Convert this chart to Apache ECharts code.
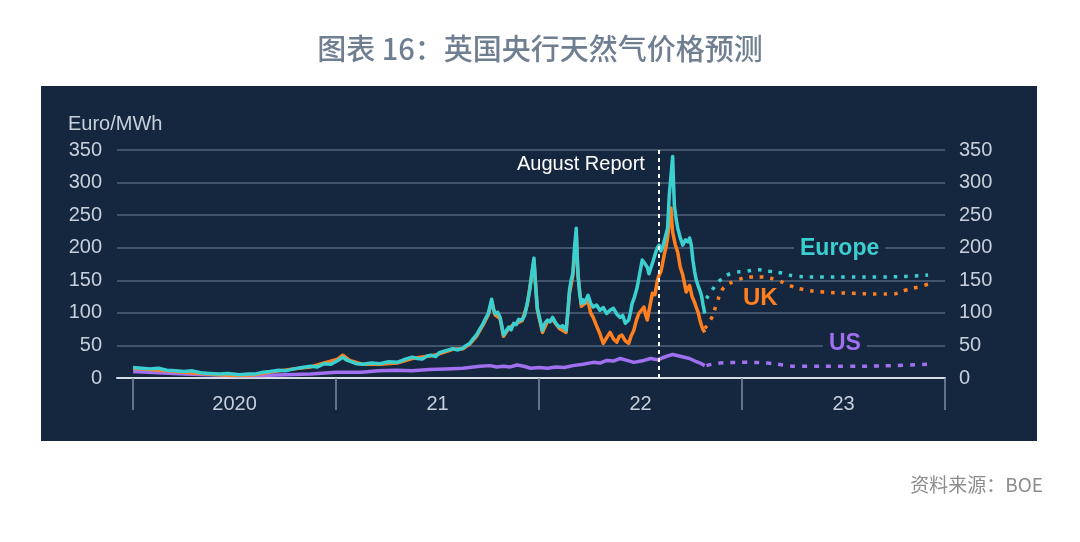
<!DOCTYPE html>
<html>
<head>
    <meta charset="utf-8">
    <title>英国央行天然气价格预测</title>
    <script src="https://cdn.jsdelivr.net/npm/echarts@6/dist/echarts.min.js"></script>
    <style>
        html, body { margin: 0; padding: 0; background: #ffffff; }
        #chart1 { width: 1080px; height: 542px; }
    </style>
</head>
<body>
<div id="chart1"></div>
<script type="text/javascript">
    // x = months since Jan 2020, y = Euro/MWh
    var europeActual = [
        [0, 16], [0.5, 15], [1, 14], [1.5, 15], [2, 12], [2.5, 11], [3, 10], [3.5, 11], [4, 8], [4.5, 7],
        [5.1, 6], [5.6, 7], [6.3, 5], [6.8, 6], [7.2, 6], [7.7, 9], [8.1, 10], [8.6, 12], [9, 11], [9.5, 14],
        [10, 16], [10.5, 18], [10.9, 17], [11.3, 22], [11.7, 21], [12.1, 27], [12.4, 32], [12.6, 28], [12.8, 26],
        [13.2, 22], [13.6, 21], [14.1, 23], [14.6, 22], [15.1, 25], [15.6, 24], [16.0, 28], [16.5, 32],
        [16.8, 30], [17.1, 29], [17.4, 34], [17.6, 35], [17.9, 33], [18.1, 39], [18.5, 42], [18.9, 45],
        [19.2, 43], [19.5, 46], [19.7, 50], [19.9, 53], [20.1, 60], [20.3, 66], [20.5, 75], [20.7, 84],
        [20.85, 92], [21.0, 99], [21.1, 110], [21.2, 121], [21.3, 106], [21.4, 99], [21.55, 101], [21.7, 93],
        [21.8, 80], [21.9, 66], [22.05, 72], [22.2, 78], [22.35, 74], [22.5, 84], [22.65, 82], [22.8, 90],
        [23.0, 89], [23.15, 96], [23.3, 114], [23.45, 135], [23.6, 166], [23.7, 184], [23.8, 140], [23.9, 107],
        [24.05, 90], [24.2, 73], [24.35, 84], [24.5, 89], [24.65, 86], [24.8, 93], [25.0, 84], [25.2, 78],
        [25.4, 80], [25.6, 73], [25.7, 100], [25.8, 135], [25.9, 150], [26.0, 161], [26.1, 200], [26.2, 230],
        [26.25, 190], [26.3, 161], [26.4, 130], [26.5, 114], [26.6, 120], [26.7, 116], [26.9, 127],
        [27.05, 115], [27.2, 109], [27.4, 112], [27.6, 104], [27.8, 108], [28.0, 99], [28.2, 104], [28.4, 107],
        [28.6, 98], [28.8, 93], [28.95, 96], [29.1, 84], [29.3, 89], [29.4, 100], [29.5, 114], [29.65, 125],
        [29.8, 139], [29.95, 160], [30.1, 181], [30.25, 176], [30.4, 170], [30.5, 160], [30.6, 163],
        [30.75, 180], [30.9, 193], [31.0, 200], [31.1, 204], [31.2, 195], [31.3, 200], [31.45, 215],
        [31.6, 230], [31.65, 255], [31.7, 281], [31.8, 310], [31.9, 340], [31.95, 300], [32.0, 265],
        [32.1, 245], [32.2, 230], [32.35, 215], [32.5, 204], [32.65, 212], [32.8, 209], [32.9, 215],
        [33.0, 204], [33.1, 180], [33.2, 163], [33.3, 150], [33.4, 142], [33.5, 135], [33.6, 127],
        [33.7, 112], [33.8, 99]
    ];
    var europeForecast = [
        [33.9, 122], [34.7, 150], [35.4, 161], [36.3, 164], [36.9, 166], [37.6, 164], [38.4, 161],
        [39.2, 156], [40.8, 155], [42.2, 155], [44.1, 155], [45.7, 156], [47.0, 158]
    ];
    var ukActual = [
        [0, 15], [1, 13], [2.5, 10], [4, 7], [5.1, 5], [6.3, 4], [7.2, 5], [8.1, 9], [9.5, 14], [10.5, 17],
        [11.3, 23], [12.1, 29], [12.4, 35], [12.8, 27], [13.6, 21], [14.6, 21], [15.6, 23], [16.5, 30],
        [17.6, 34], [18.1, 37], [18.9, 44], [19.5, 45], [19.9, 52], [20.3, 64], [20.7, 82], [21.0, 97],
        [21.2, 118], [21.4, 97], [21.7, 91], [21.9, 64], [22.2, 76], [22.5, 82], [23.0, 88], [23.3, 112],
        [23.6, 163], [23.7, 180], [23.9, 105], [24.2, 70], [24.5, 87], [24.8, 90], [25.2, 76], [25.6, 70],
        [25.8, 130], [26.0, 158], [26.2, 222], [26.3, 158], [26.5, 110], [26.7, 114], [26.9, 118],
        [27.05, 100], [27.2, 93], [27.4, 80], [27.6, 68], [27.7, 60], [27.8, 53], [28.0, 62], [28.2, 70],
        [28.4, 60], [28.6, 55], [28.75, 64], [28.9, 66], [29.1, 57], [29.3, 53], [29.45, 65], [29.6, 73],
        [29.75, 88], [29.9, 99], [30.05, 104], [30.2, 109], [30.3, 97], [30.4, 89], [30.55, 110], [30.7, 130],
        [30.85, 128], [31.0, 150], [31.1, 158], [31.2, 163], [31.3, 175], [31.4, 189], [31.5, 200],
        [31.6, 215], [31.7, 240], [31.8, 261], [31.85, 240], [31.9, 224], [32.05, 205], [32.2, 193],
        [32.35, 170], [32.5, 158], [32.6, 145], [32.7, 132], [32.8, 138], [32.9, 142], [33.05, 125],
        [33.2, 116], [33.3, 108], [33.4, 101], [33.5, 90], [33.6, 81], [33.7, 74], [33.8, 70]
    ];
    var ukForecast = [
        [33.8, 76], [34.2, 92], [34.5, 114], [34.9, 138], [35.7, 150], [36.5, 155], [37.2, 155],
        [38.1, 150], [38.8, 142], [39.6, 136], [40.8, 132], [42.6, 130], [44.1, 129], [44.9, 129],
        [45.7, 135], [46.3, 139], [47.0, 144]
    ];
    var usActual = [
        [0, 10], [1.5, 8], [3, 6], [4.5, 5], [6, 4], [7.5, 4], [9, 5], [10.5, 6], [12, 9], [13.5, 9],
        [14.5, 11], [15.6, 12], [16.5, 11], [17.5, 13], [18.5, 14], [19.5, 15], [20.5, 18], [21.1, 19],
        [21.5, 17], [21.9, 18], [22.3, 17], [22.7, 20], [23.1, 18], [23.5, 15], [24.0, 16], [24.5, 15],
        [25, 17], [25.5, 16], [26, 19], [26.6, 21], [27.2, 24], [27.6, 23], [28, 27], [28.4, 26], [28.8, 30],
        [29.2, 27], [29.6, 24], [30.2, 27], [30.6, 30], [31.0, 28], [31.5, 33], [31.9, 36], [32.4, 33],
        [32.9, 30], [33.3, 25], [33.6, 22], [33.8, 19]
    ];
    var usForecast = [
        [33.9, 19], [34.7, 23], [36.3, 24], [37.5, 23], [38.7, 19], [39.2, 18], [42.2, 18],
        [44.9, 19], [47.0, 21]
    ];
    var yearTicks = [0, 12, 24, 36, 48];
    var yearLabelPos = [6, 18, 30, 42];
    var yearLabels = ['2020', '21', '22', '23'];
    var augustReport = 31.05;

    var navy = '#15273f';
    var cEurope = '#3ccfd0', cUK = '#ff7f1e', cUS = '#a070f0';
    var textGrey = '#c7cfda';
    var latin = '"Liberation Sans", Arial';

    var myChart1 = echarts.init(document.getElementById('chart1'));

    function actual(name, data, color) {
        return {
            name: name, type: 'line', data: data, showSymbol: false, animation: false,
            lineStyle: { color: color, width: 3.5, join: 'round' }, z: 3
        };
    }
    function forecast(name, data, color, dash) {
        return {
            name: name, type: 'line', data: data, showSymbol: false, animation: false, smooth: 0.4,
            lineStyle: { color: color, width: 3.5, type: dash }, z: 3
        };
    }

    var euroSeries = actual('Europe', europeActual, cEurope);
    euroSeries.markLine = {
        silent: true, symbol: 'none', animation: false,
        lineStyle: { color: '#ffffff', width: 2, type: [4, 4] },
        label: { show: false },
        data: [{ xAxis: augustReport }]
    };

    myChart1.setOption({
        backgroundColor: '#ffffff',
        title: {
            text: '图表 16：英国央行天然气价格预测',
            left: 'center', top: 29,
            textStyle: { fontFamily: 'Noto Sans CJK SC', fontSize: 29, fontWeight: 500, color: '#6f7f91' }
        },
        graphic: [
            { type: 'rect', z: -10, shape: { x: 41, y: 86, width: 996, height: 355 }, style: { fill: navy } },
            { type: 'text', left: 68, top: 114, style: { text: 'Euro/MWh', fill: textGrey, font: '20px ' + latin } },
            { type: 'text', left: 517, top: 154, z: 10, style: { text: 'August Report', fill: '#ffffff', font: '20px ' + latin } },
            { type: 'text', left: 794, top: 237, z: 10, style: { text: 'Europe', fill: cEurope, font: 'bold 23px ' + latin, backgroundColor: navy, padding: [0, 6] } },
            { type: 'text', left: 743, top: 286, z: 10, style: { text: 'UK', fill: cUK, font: 'bold 24px ' + latin } },
            { type: 'text', left: 823, top: 332, z: 10, style: { text: 'US', fill: cUS, font: 'bold 23px ' + latin, backgroundColor: navy, padding: [0, 6] } },
            { type: 'text', right: 37, top: 475, style: { text: '资料来源：BOE', fill: '#8c8c8c', font: '19px "Noto Sans CJK SC"' } }
        ],
        grid: { left: 117, right: 135, top: 150, bottom: 164 },
        xAxis: {
            type: 'value', min: -0.95, max: 48,
            splitLine: { show: false },
            axisLine: { show: true, lineStyle: { color: '#d5dce5', width: 2 } },
            axisTick: { show: true, customValues: yearTicks, length: 32, lineStyle: { color: '#7f8da0', width: 1.5 } },
            axisLabel: {
                customValues: yearLabelPos, margin: 16, color: textGrey, fontSize: 20, fontFamily: latin,
                formatter: function (v) { return yearLabels[yearLabelPos.indexOf(v)]; }
            }
        },
        yAxis: [{
            type: 'value', min: 0, max: 350, interval: 50,
            axisLine: { show: false }, axisTick: { show: false },
            axisLabel: { margin: 15, color: textGrey, fontSize: 20, fontFamily: latin },
            splitLine: { lineStyle: { color: '#52647c', width: 1.5 } }
        }, {
            type: 'value', min: 0, max: 350, interval: 50, position: 'right',
            axisLine: { show: false }, axisTick: { show: false },
            axisLabel: { margin: 14, color: textGrey, fontSize: 20, fontFamily: latin },
            splitLine: { show: false }
        }],
        series: [
            actual('US', usActual, cUS),
            forecast('US f', usForecast, cUS, [5, 7]),
            actual('UK', ukActual, cUK),
            forecast('UK f', ukForecast, cUK, [3.5, 7]),
            euroSeries,
            forecast('Europe f', europeForecast, cEurope, [3.5, 7])
        ]
    });
</script>
</body>
</html>
